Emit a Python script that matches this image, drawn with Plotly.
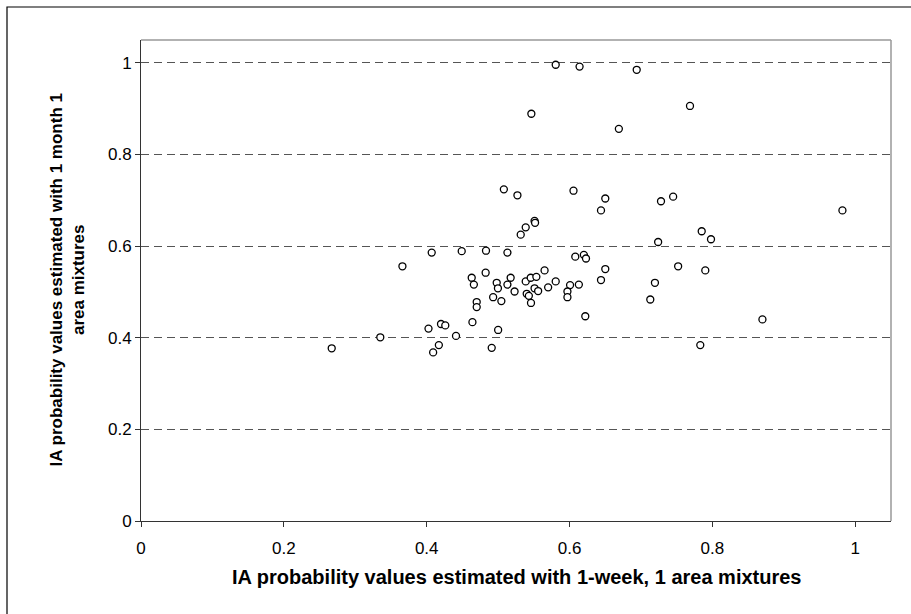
import plotly.graph_objects as go

# IA probability values: 1-week, 1 area mixtures (x) vs 1 month 1 area mixtures (y)
x_week = [
    0.407, 0.366, 0.4025, 0.420, 0.426, 0.335, 0.267, 0.417, 0.409,
    0.449, 0.483, 0.513, 0.608, 0.620, 0.623, 0.650, 0.644, 0.4825, 0.463,
    0.466, 0.498, 0.5175, 0.513, 0.4997, 0.523, 0.5386, 0.5456, 0.5535, 0.565,
    0.5806, 0.570, 0.551, 0.556, 0.540, 0.543, 0.546, 0.493, 0.5045, 0.6007,
    0.613, 0.597, 0.597, 0.470, 0.470, 0.464, 0.622, 0.500, 0.441, 0.491,
    0.508, 0.527, 0.6055, 0.650, 0.644, 0.551, 0.5517, 0.5386, 0.5316,
    0.5806, 0.614, 0.694, 0.7686, 0.5465, 0.669,
    0.728, 0.745, 0.982, 0.785, 0.798, 0.724, 0.752, 0.790, 0.7195, 0.713,
    0.870, 0.783,
]
y_month = [
    0.586, 0.556, 0.420, 0.430, 0.427, 0.401, 0.377, 0.384, 0.368,
    0.589, 0.590, 0.586, 0.577, 0.581, 0.573, 0.550, 0.526, 0.542, 0.531,
    0.516, 0.520, 0.531, 0.516, 0.508, 0.501, 0.523, 0.531, 0.533, 0.547,
    0.523, 0.510, 0.508, 0.502, 0.496, 0.4915, 0.476, 0.4885, 0.480, 0.515,
    0.516, 0.501, 0.4885, 0.478, 0.467, 0.434, 0.447, 0.417, 0.404, 0.378,
    0.724, 0.711, 0.721, 0.704, 0.678, 0.655, 0.651, 0.641, 0.625,
    0.996, 0.992, 0.985, 0.906, 0.889, 0.856,
    0.698, 0.708, 0.678, 0.6325, 0.615, 0.609, 0.556, 0.547, 0.520, 0.4835,
    0.440, 0.384,
]

x_ticks = [0, 0.2, 0.4, 0.6, 0.8, 1]
y_ticks = [0, 0.2, 0.4, 0.6, 0.8, 1]
x_title = "IA probability values estimated with 1-week, 1 area mixtures"
y_title = "IA probability values estimated with 1 month 1<br>area mixtures"

W, H = 911, 614
L, R, T, B = 141, 20, 40, 93
PW, PH = W - L - R, H - T - B

font_family = "Liberation Sans, Arial, sans-serif"

fig = go.Figure()
fig.add_trace(go.Scatter(
    x=x_week, y=y_month, mode="markers",
    marker=dict(symbol="circle", size=7, color="white",
                line=dict(color="black", width=1.3)),
    showlegend=False, hoverinfo="x+y",
))

fig.update_layout(
    width=W, height=H,
    margin=dict(l=L, r=R, t=T, b=B, pad=0),
    paper_bgcolor="white", plot_bgcolor="white",
    font=dict(family=font_family, size=17, color="black"),
    xaxis=dict(
        range=[0, 1.05], tickvals=x_ticks, ticktext=[f"{v:g}" for v in x_ticks],
        showgrid=False, zeroline=False,
        showline=True, linecolor="#333333", linewidth=1,
        ticks="outside", ticklen=5, tickcolor="#333333", tickwidth=1,
        tickfont=dict(size=17), ticklabelstandoff=7,
    ),
    yaxis=dict(
        range=[0, 1.05], tickvals=y_ticks, ticktext=[f"{v:g}" for v in y_ticks],
        showgrid=True, gridcolor="#555555", gridwidth=1, griddash="8px,5px",
        zeroline=False,
        showline=True, linecolor="#333333", linewidth=1,
        ticks="outside", ticklen=5, tickcolor="#333333", tickwidth=1,
        tickfont=dict(size=17),
    ),
    annotations=[
        dict(text=f"<b>{x_title}</b>", xref="paper", yref="paper",
             x=0.5, y=(H - B - 577) / PH, xanchor="center", yanchor="middle",
             showarrow=False, font=dict(size=20)),
        dict(text=f"<b>{y_title}</b>", xref="paper", yref="paper",
             x=(67 - L) / PW, y=0.5, xanchor="center", yanchor="middle",
             textangle=-90, showarrow=False, font=dict(size=17)),
    ],
    shapes=[
        # plot area border (top / right in gray)
        dict(type="line", xref="paper", yref="paper", x0=0, x1=1, y0=1, y1=1,
             line=dict(color="#999999", width=1.5)),
        dict(type="line", xref="paper", yref="paper", x0=1, x1=1, y0=0, y1=1,
             line=dict(color="#999999", width=1.5)),
        # outer chart frame
        dict(type="rect", xref="paper", yref="paper",
             x0=(7 - L) / PW, x1=(920 - L) / PW,
             y0=-(625 - (H - B)) / PH, y1=1 + (T - 7) / PH,
             line=dict(color="black", width=1.2), layer="below"),
    ],
)

fig.write_html("out.html",
               config={"displayModeBar": False},
               post_script="document.body.style.margin='0';document.body.style.overflow='hidden';")
